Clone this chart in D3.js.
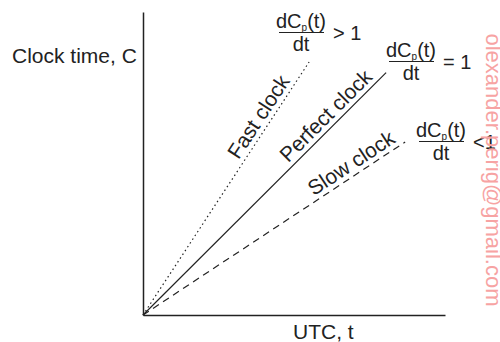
<!DOCTYPE html>
<html><head><meta charset="utf-8">
<script src="https://cdn.jsdelivr.net/npm/d3@7"></script>
<style>body{margin:0;background:#fff}svg{display:block}</style>
</head><body>
<script>
const seriesNames = ["Fast clock", "Perfect clock", "Slow clock"];
const endT = [0.55, 0.805, 0.868];
const endC = [0.835, 0.80, 0.571];
const relations = ["> 1", "= 1", "<1"];
const axisLabels = ["UTC, t", "Clock time, C"];
const watermark = "olexander.perig@gmail.com";

const W = 500, H = 342;
const font = "'Liberation Sans', Arial, sans-serif";
const ink = "#222";
const svg = d3.select("body").append("svg").attr("width", W).attr("height", H)
  .style("font-family", font);

const x = d3.scaleLinear().domain([0, 1]).range([143, 445]);
const y = d3.scaleLinear().domain([0, 1]).range([315, 12]);

// axes
svg.append("g").attr("transform", `translate(0,${y(0)})`)
  .call(d3.axisBottom(x).ticks(0).tickSizeOuter(0));
svg.append("g").attr("transform", `translate(${x(0)},0)`)
  .call(d3.axisLeft(y).ticks(0).tickSizeOuter(0));
svg.selectAll(".domain").attr("stroke", ink).attr("stroke-width", 1.5);

// lines
const dashes = ["1.5,3", null, "7,5"];
const labelFrac = [0.757, 0.787, 0.82];
seriesNames.forEach((name, i) => {
  const pts = [[0, 0], [endT[i], endC[i]]];
  svg.append("path")
    .attr("d", d3.line().x(d => x(d[0])).y(d => y(d[1]))(pts))
    .attr("fill", "none").attr("stroke", ink).attr("stroke-width", 1.2)
    .attr("stroke-dasharray", dashes[i]);
  const x0 = x(0), y0 = y(0), x1 = x(endT[i]), y1 = y(endC[i]);
  const ang = Math.atan2(y1 - y0, x1 - x0) * 180 / Math.PI;
  const f = labelFrac[i];
  const px = x0 + (x1 - x0) * f, py = y0 + (y1 - y0) * f;
  svg.append("text")
    .attr("transform", `translate(${px},${py}) rotate(${ang})`)
    .attr("y", -5).attr("text-anchor", "middle")
    .attr("font-size", 21).attr("fill", ink).text(name);
});

// fractions
const fracPos = [[301, 28], [411, 57], [441, 137]];
fracPos.forEach((p, i) => {
  const g = svg.append("g").attr("transform", `translate(${p[0]},${p[1]})`);
  const t = g.append("text").attr("text-anchor", "middle").attr("font-size", 20).attr("fill", ink);
  t.append("tspan").text("dC");
  t.append("tspan").attr("font-size", 10).attr("dy", 3).text("p");
  t.append("tspan").attr("dy", -3).text("(t)");
  g.append("line").attr("x1", -22).attr("x2", 23).attr("y1", 4.5).attr("y2", 4.5)
    .attr("stroke", ink).attr("stroke-width", 1.2);
  g.append("text").attr("text-anchor", "middle").attr("font-size", 20).attr("fill", ink)
    .attr("y", 23).text("dt");
  g.append("text").attr("x", 32).attr("y", 12).attr("font-size", 20).attr("fill", ink)
    .text(relations[i]);
});

// axis titles
svg.append("text").attr("x", 293).attr("y", 339).attr("font-size", 21).attr("fill", ink).text(axisLabels[0]);
svg.append("text").attr("x", 12).attr("y", 63).attr("font-size", 21).attr("fill", ink).text(axisLabels[1]);

// watermark
svg.append("text").attr("transform", "translate(486,170) rotate(90)")
  .attr("text-anchor", "middle").attr("font-size", 22).attr("fill", "#f7a3a3")
  .text(watermark);
</script>
</body></html>
